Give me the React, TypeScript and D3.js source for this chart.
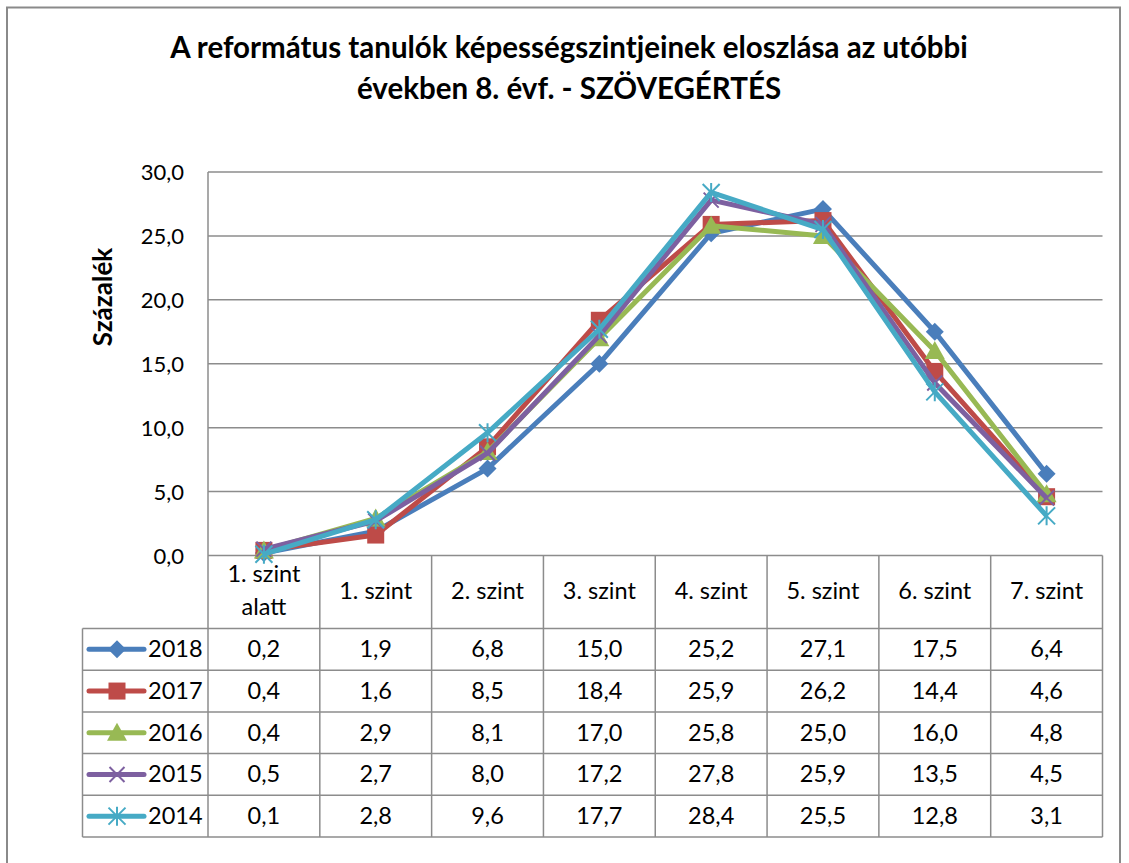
import React from "react";
import * as d3 from "d3";

const categories = ["1. szint alatt", "1. szint", "2. szint", "3. szint", "4. szint", "5. szint", "6. szint", "7. szint"];
const seriesNames = ["2018", "2017", "2016", "2015", "2014"];
const v2018 = [0.2, 1.9, 6.8, 15.0, 25.2, 27.1, 17.5, 6.4];
const v2017 = [0.4, 1.6, 8.5, 18.4, 25.9, 26.2, 14.4, 4.6];
const v2016 = [0.4, 2.9, 8.1, 17.0, 25.8, 25.0, 16.0, 4.8];
const v2015 = [0.5, 2.7, 8.0, 17.2, 27.8, 25.9, 13.5, 4.5];
const v2014 = [0.1, 2.8, 9.6, 17.7, 28.4, 25.5, 12.8, 3.1];
const yTicks = [0, 5, 10, 15, 20, 25, 30];
const colors = ["#4A7EBB", "#BE4B48", "#98B954", "#7D60A0", "#46AAC5"];
const markers = ["diamond", "square", "triangle", "x", "star"];

const seriesValues = [v2018, v2017, v2016, v2015, v2014];

const FONT = "Lato, 'Open Sans', sans-serif";
const GRID = "#8c8c8c";

function Marker({ type, x, y, color }: { type: string; x: number; y: number; color: string }) {
  if (type === "diamond") {
    const s = 9;
    return <path d={`M${x},${y - s}L${x + s},${y}L${x},${y + s}L${x - s},${y}Z`} fill={color} />;
  }
  if (type === "square") {
    const s = 8.5;
    return <rect x={x - s} y={y - s} width={2 * s} height={2 * s} fill={color} />;
  }
  if (type === "triangle") {
    const s = 10;
    return <path d={`M${x},${y - s}L${x + s},${y + s * 0.8}L${x - s},${y + s * 0.8}Z`} fill={color} />;
  }
  if (type === "x") {
    const s = 7.5;
    return (
      <path d={`M${x - s},${y - s}L${x + s},${y + s}M${x - s},${y + s}L${x + s},${y - s}`} stroke={color} strokeWidth={2} />
    );
  }
  const s = 8.5;
  return (
    <path
      d={`M${x - s},${y - s}L${x + s},${y + s}M${x - s},${y + s}L${x + s},${y - s}M${x},${y - s - 1}L${x},${y + s + 1}`}
      stroke={color}
      strokeWidth={2}
    />
  );
}

export default function App() {
  const W = 1129;
  const H = 863;
  const left = 208;
  const right = 1102.5;
  const top = 172;
  const bottom = 555.5;
  const tableLeft = 82.5;
  const headerBottom = 628.5;
  const rowH = 41.7;
  const tableBottom = headerBottom + rowH * seriesNames.length;
  const FS = 23.5;

  const x = d3.scaleBand<string>().domain(categories).range([left, right]);
  const y = d3.scaleLinear().domain([0, 30]).range([bottom, top]);
  const cx = (c: string) => (x(c) as number) + x.bandwidth() / 2;
  const fmt = (v: number) => d3.format(".1f")(v).replace(".", ",");

  const line = d3
    .line<number>()
    .x((_, i) => cx(categories[i]))
    .y((d) => y(d));

  return (
    <svg width={W} height={H} style={{ display: "block", position: "absolute", left: 0, top: 0 }} fontFamily={FONT}>
      <rect x={0} y={0} width={W} height={H} fill="#fff" />
      <rect x={7} y={7.5} width={1113} height={900} fill="none" stroke="#8a8a8a" strokeWidth={2} />

      <text x={569} y={58} textAnchor="middle" fontSize={29.5} fontWeight="bold" fill="#000">
        A református tanulók képességszintjeinek eloszlása az utóbbi
      </text>
      <text x={569} y={99} textAnchor="middle" fontSize={29.5} fontWeight="bold" fill="#000">
        években 8. évf. - SZÖVEGÉRTÉS
      </text>

      <text
        transform={`translate(112,297) rotate(-90)`}
        textAnchor="middle"
        fontSize={26}
        fontWeight="bold"
        fill="#000"
      >
        Százalék
      </text>

      {yTicks.map((t) => (
        <g key={t}>
          {t > 0 && <line x1={left} x2={right} y1={y(t)} y2={y(t)} stroke={GRID} strokeWidth={1.5} />}
          <text x={184} y={y(t) + 8} textAnchor="end" fontSize={22} fill="#000">
            {fmt(t)}
          </text>
        </g>
      ))}

      {/* axis line on the left */}
      <line x1={left} x2={left} y1={top} y2={tableBottom} stroke={GRID} strokeWidth={1.5} />
      {/* column separators in the data table */}
      {categories.slice(1).map((c) => (
        <line key={c} x1={x(c) as number} x2={x(c) as number} y1={bottom} y2={tableBottom} stroke={GRID} strokeWidth={1.5} />
      ))}
      <line x1={right} x2={right} y1={bottom} y2={tableBottom} stroke={GRID} strokeWidth={1.5} />
      <line x1={left} x2={right} y1={bottom} y2={bottom} stroke={GRID} strokeWidth={1.5} />
      <line x1={tableLeft} x2={right} y1={headerBottom} y2={headerBottom} stroke={GRID} strokeWidth={1.5} />
      {seriesNames.map((s, i) => (
        <line
          key={s}
          x1={tableLeft}
          x2={right}
          y1={headerBottom + rowH * (i + 1)}
          y2={headerBottom + rowH * (i + 1)}
          stroke={GRID}
          strokeWidth={1.5}
        />
      ))}
      <line x1={tableLeft} x2={tableLeft} y1={headerBottom} y2={tableBottom} stroke={GRID} strokeWidth={1.5} />

      {/* category headers */}
      {categories.map((c) => {
        const parts = c === "1. szint alatt" ? ["1. szint", "alatt"] : [c];
        return (
          <text key={c} x={cx(c)} textAnchor="middle" fontSize={FS} fill="#000">
            {parts.length === 2 ? (
              <>
                <tspan x={cx(c)} y={582}>
                  {parts[0]}
                </tspan>
                <tspan x={cx(c)} y={615}>
                  {parts[1]}
                </tspan>
              </>
            ) : (
              <tspan x={cx(c)} y={599}>
                {parts[0]}
              </tspan>
            )}
          </text>
        );
      })}

      {/* table rows */}
      {seriesNames.map((s, i) => {
        const rowMid = headerBottom + rowH * i + rowH / 2;
        return (
          <g key={s}>
            <line x1={89} x2={144} y1={rowMid} y2={rowMid} stroke={colors[i]} strokeWidth={5} strokeLinecap="round" />
            <Marker type={markers[i]} x={117} y={rowMid} color={colors[i]} />
            <text x={148} y={rowMid + 8} fontSize={FS} fill="#000">
              {s}
            </text>
            {seriesValues[i].map((v, j) => (
              <text key={j} x={cx(categories[j])} y={rowMid + 8} textAnchor="middle" fontSize={FS} fill="#000">
                {fmt(v)}
              </text>
            ))}
          </g>
        );
      })}

      {/* series */}
      {seriesValues.map((vals, i) => (
        <g key={seriesNames[i]}>
          <path d={line(vals) as string} fill="none" stroke={colors[i]} strokeWidth={5} strokeLinejoin="round" />
          {vals.map((v, j) => (
            <Marker key={j} type={markers[i]} x={cx(categories[j])} y={y(v)} color={colors[i]} />
          ))}
        </g>
      ))}
    </svg>
  );
}
